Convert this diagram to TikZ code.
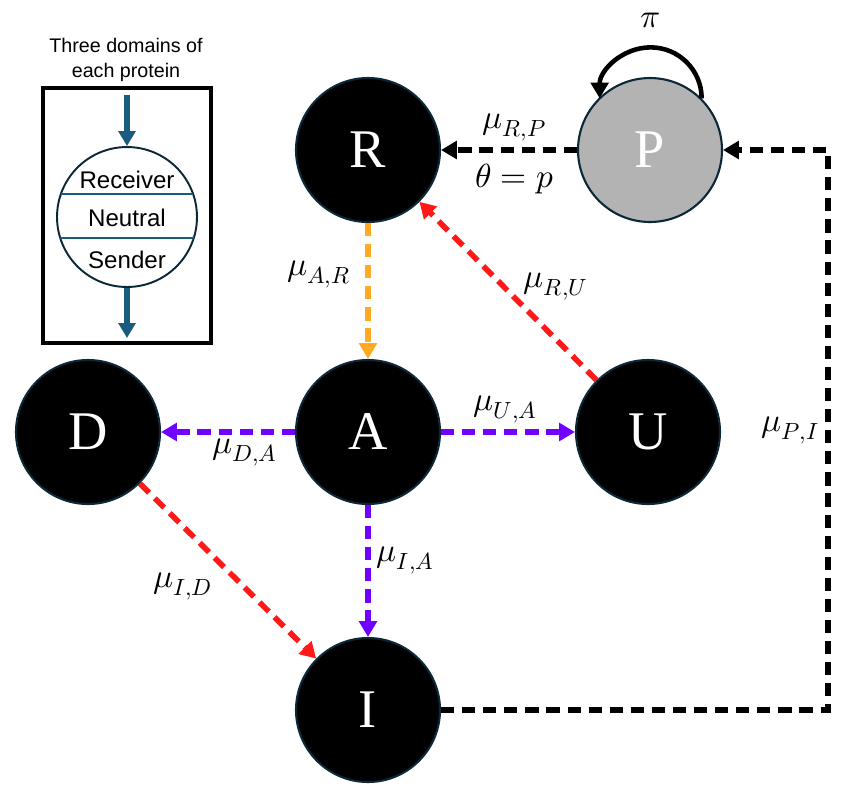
\documentclass[tikz,border=0pt]{standalone}
\usepackage{unicode-math}
\newfontfamily\legendfont{Liberation Sans}
\newfontfamily\statefont{Liberation Serif}
\usetikzlibrary{arrows.meta,positioning}

\definecolor{nodeedge}{HTML}{0C2736}
\definecolor{pgray}{HTML}{B3B3B3}
\definecolor{rorange}{HTML}{FFAA22}
\definecolor{rred}{HTML}{FF1A1A}
\definecolor{rpurple}{HTML}{7000FF}
\definecolor{dblue}{HTML}{1A5B80}

\begin{document}
\begin{tikzpicture}[x=0.02cm, y=-0.02cm,
    state/.style={circle, fill=black, draw=nodeedge, line width=1.2pt, minimum size=2.88cm, inner sep=0pt, text=white, font=\statefont\fontsize{31}{36}\selectfont},
    flow/.style={line width=3.2pt, dash pattern=on 7.5pt off 4.5pt, -{Triangle[width=10pt,length=9pt]}},
    lab/.style={font=\fontsize{19}{23}\selectfont, text=black},
    domtext/.style={font=\legendfont\fontsize{13.7}{16}\selectfont},
    domarrow/.style={dblue, line width=3pt, -{Triangle[width=9.5pt,length=8.5pt]}}]
    \useasboundingbox (0,0) rectangle (846,799);

    % legend
    \node[font=\legendfont\fontsize{11.2}{14}\selectfont, align=center] (title) at (126,60) {Three domains of\\each protein};
    \draw[line width=2.2pt] (43,88) rectangle (211,343); % box
    \node[circle, draw=nodeedge, line width=1.1pt, minimum size=2.8cm, inner sep=0pt] (dom) at (127,217) {};
    \draw[dblue, line width=1.1pt] ([shift={(-66,-23)}]dom.center) -- ([shift={(66,-23)}]dom.center); % upper split
    \draw[dblue, line width=1.1pt] ([shift={(-67,21)}]dom.center) -- ([shift={(67,21)}]dom.center); % lower split
    \node[domtext] (rec) at (127,180) {Receiver};
    \node[domtext] (neu) at (127,218) {Neutral};
    \node[domtext] (sen) at (127,260) {Sender};
    \coordinate (in) at (127,95);
    \coordinate (out) at (127,338);
    \draw[domarrow] (in) -- (dom.north);
    \draw[domarrow] (dom.south) -- (out);

    % states
    \node[state] (R) at (368,150) {R};
    \node[state, fill=pgray] (P) at (650,150) {P};
    \node[state] (A) at (368,432) {A};
    \node[state] (D) at (88,432) {D};
    \node[state] (U) at (648,432) {U};
    \node[state] (I) at (368,710) {I};
    \coordinate (turn) at (828,710);

    % transitions
    \draw[line width=2.6pt, -{Triangle[width=10pt,length=9pt]}] (P.45) arc[start angle=0, end angle=-180, radius=51]; % self loop
    \node[lab] (pi) at ([shift={(0,-56)}]P.north) {$\pi$};
    \draw[flow] (P) -- node[lab, above, pos=0.46] {$\mu_{R,P}$} node[lab, below, pos=0.46, yshift=-3pt] {$\theta = p$} (R);
    \draw[flow, rorange] (R) -- node[lab, left, pos=0.38, xshift=-5pt] {$\mu_{A,R}$} (A);
    \draw[flow, rred] (U) -- node[lab, above right, pos=0.4, xshift=-6pt] {$\mu_{R,U}$} (R);
    \draw[flow, rpurple] (A) -- node[lab, above, pos=0.48] {$\mu_{U,A}$} (U);
    \draw[flow, rpurple] (A) -- node[lab, below, pos=0.375, inner sep=2pt] {$\mu_{D,A}$} (D);
    \draw[flow, rpurple] (A) -- node[lab, right, pos=0.42] {$\mu_{I,A}$} (I);
    \draw[flow, rred] (D) -- node[lab, below left, pos=0.46] {$\mu_{I,D}$} (I);
    \draw[flow] (I) -- (turn) |- node[lab, left, pos=0.25] {$\mu_{P,I}$} (P);
\end{tikzpicture}
\end{document}
